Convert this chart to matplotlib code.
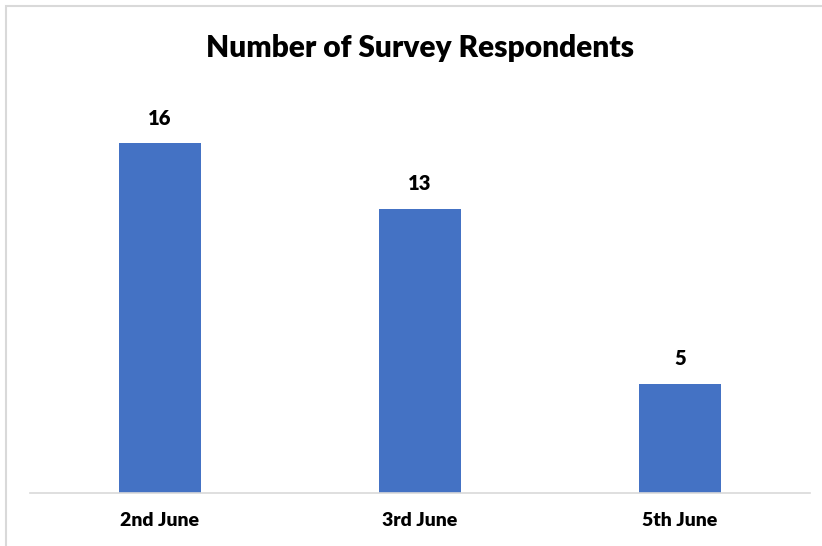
import matplotlib.pyplot as plt
from matplotlib.patches import Rectangle

dates = ['2nd June', '3rd June', '5th June']
respondents = [16, 13, 5]

plt.rcParams['font.family'] = ['Lato', 'DejaVu Sans']

fig = plt.figure(figsize=(8.22, 5.46), dpi=100)
W, H = 822, 546

# outer chart border (light gray, runs off right/bottom)
fig.patches.append(Rectangle((6 / W, -0.1), 1.2, (546 - 5) / H + 0.1 - 0.001,
                             transform=fig.transFigure, fill=False,
                             edgecolor='#d9d9d9', linewidth=1.5))

ax = fig.add_axes([30 / W, 53 / H, 780 / W, 393.75 / H])
bars = ax.bar(range(len(dates)), respondents, width=0.312, color='#4472C4')
ax.set_xlim(-0.5, 2.5)
ax.set_ylim(0, 18)

for s in ['top', 'right', 'left']:
    ax.spines[s].set_visible(False)
ax.spines['bottom'].set_color('#d9d9d9')
ax.spines['bottom'].set_linewidth(1.2)
ax.set_yticks([])
ax.set_xticks(range(len(dates)))
ax.set_xticklabels(dates, fontsize=14, fontweight='heavy')
ax.tick_params(axis='x', length=0, pad=14)

for b, v in zip(bars, respondents):
    ax.annotate(str(v), (b.get_x() + b.get_width() / 2, v),
                xytext=(0, 11), textcoords='offset points',
                ha='center', va='bottom', fontsize=14.5, fontweight='heavy')

fig.text(420 / W, 1 - 48 / H, 'Number of Survey Respondents',
         ha='center', va='center', fontsize=21.5, fontweight='heavy')

fig.savefig('out.png', dpi=100)
